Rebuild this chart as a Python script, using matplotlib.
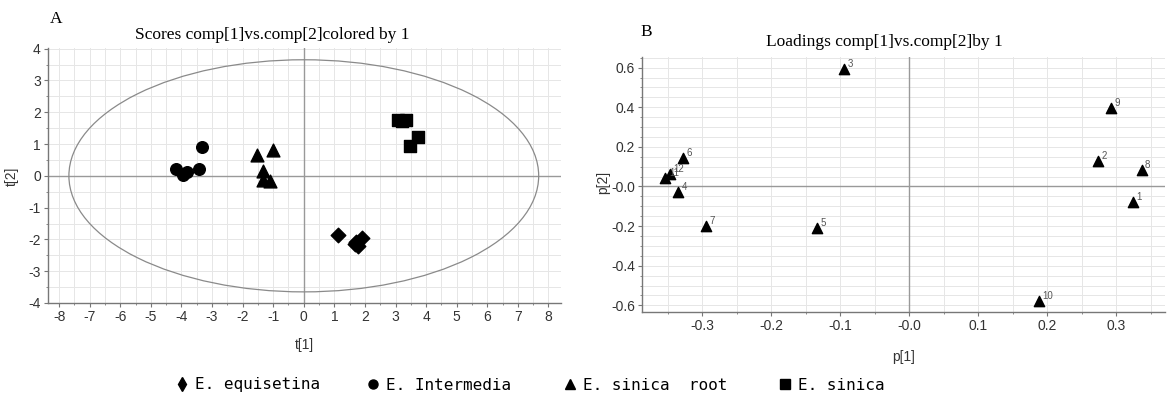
import matplotlib
matplotlib.use("Agg")
import matplotlib.pyplot as plt
from matplotlib.patches import Ellipse
from matplotlib.lines import Line2D
from matplotlib.ticker import MultipleLocator, FuncFormatter

plt.rcParams["axes.unicode_minus"] = False

# ---------------- data ----------------
equisetina_t1 = [1.11, 1.66, 1.90, 1.78, 1.72]
equisetina_t2 = [-1.85, -2.16, -1.94, -2.21, -2.08]
intermedia_t1 = [-4.19, -3.96, -3.81, -3.42, -3.34]
intermedia_t2 = [0.20, 0.04, 0.12, 0.20, 0.91]
sinica_root_t1 = [-1.53, -1.02, -1.35, -1.32, -1.10]
sinica_root_t2 = [0.64, 0.80, 0.14, -0.14, -0.17]
sinica_t1 = [3.07, 3.22, 3.35, 3.73, 3.46]
sinica_t2 = [1.75, 1.72, 1.74, 1.22, 0.93]
ellipse_width = 15.36
ellipse_height = 7.30

load_ids = ["1", "2", "3", "4", "5", "6", "7", "8", "9", "10", "11", "12"]
load_p1 = [0.325, 0.274, -0.094, -0.335, -0.133, -0.328, -0.294, 0.337, 0.293, 0.188, -0.353, -0.346]
load_p2 = [-0.077, 0.129, 0.593, -0.029, -0.208, 0.142, -0.198, 0.083, 0.395, -0.577, 0.041, 0.062]

legend_labels = ["E. equisetina", "E. Intermedia", "E. sinica  root", "E. sinica"]

# ---------------- figure ----------------
W, H = 1172, 396
fig = plt.figure(figsize=(W / 100, H / 100), dpi=100)

def fx(px):
    return px / W

def fy(py):
    return 1 - py / H

tick_font = {"family": "Liberation Sans", "size": 10, "color": "#333333"}
grid_col = "#e6e6e6"
spine_col = "#777777"

def style_axes(ax):
    for s in ["top", "right"]:
        ax.spines[s].set_visible(False)
    for s in ["left", "bottom"]:
        ax.spines[s].set_color(spine_col)
        ax.spines[s].set_linewidth(1.0)
    ax.grid(True, which="both", color=grid_col, linewidth=0.7, zorder=0)
    ax.set_axisbelow(True)
    ax.tick_params(which="major", length=3, width=0.8, color=spine_col, pad=2)
    ax.tick_params(which="minor", length=1.5, width=0.6, color=spine_col)
    for lab in ax.get_xticklabels() + ax.get_yticklabels():
        lab.set_fontfamily(tick_font["family"])
        lab.set_fontsize(tick_font["size"])
        lab.set_color(tick_font["color"])

# ---------------- Panel A ----------------
axA = fig.add_axes([fx(47.8), fy(303), fx(560.7) - fx(47.8), fy(48) - fy(303)])
axA.set_xlim(-8.37, 8.40)
axA.set_ylim(-4.0, 4.02)
axA.xaxis.set_major_locator(MultipleLocator(1))
axA.xaxis.set_minor_locator(MultipleLocator(0.5))
axA.yaxis.set_major_locator(MultipleLocator(1))
axA.yaxis.set_minor_locator(MultipleLocator(0.5))
axA.axhline(0, color="#999999", lw=1.0, zorder=1)
axA.axvline(0, color="#999999", lw=1.0, zorder=1)
axA.add_patch(Ellipse((0, 0), ellipse_width, ellipse_height, fill=False,
                      edgecolor="#8a8a8a", lw=0.9, zorder=2))
axA.scatter(equisetina_t1, equisetina_t2, marker="D", s=55, color="black", zorder=3)
axA.scatter(intermedia_t1, intermedia_t2, marker="o", s=70, color="black", zorder=3)
axA.scatter(sinica_root_t1, sinica_root_t2, marker="^", s=85, color="black", zorder=3)
axA.scatter(sinica_t1, sinica_t2, marker="s", s=70, color="black", zorder=3)
style_axes(axA)
fig.text(fx(12), fy(176), "t[2]", rotation=90, ha="center", va="center",
         fontfamily="Liberation Sans", fontsize=10, color="#333333")
fig.text(fx(304), fy(345), "t[1]", ha="center", va="center",
         fontfamily="Liberation Sans", fontsize=10, color="#333333")
fig.text(fx(272), fy(35), "Scores comp[1]vs.comp[2]colored by 1", ha="center", va="center",
         fontfamily="Liberation Serif", fontsize=12.5, color="black")
fig.text(fx(56), fy(19), "A", ha="center", va="center",
         fontfamily="Liberation Serif", fontsize=12.5, color="black")

# ---------------- Panel B ----------------
axB = fig.add_axes([fx(642), fy(311.7), fx(1165) - fx(642), fy(56.7) - fy(311.7)])
axB.set_xlim(-0.387, 0.371)
axB.set_ylim(-0.632, 0.655)
axB.xaxis.set_major_locator(MultipleLocator(0.1))
axB.xaxis.set_minor_locator(MultipleLocator(0.05))
axB.yaxis.set_major_locator(MultipleLocator(0.2))
axB.yaxis.set_minor_locator(MultipleLocator(0.05))

def fmt(v, pos):
    if abs(v) < 1e-9:
        return "-0.0"
    return f"{v:.1f}"

axB.xaxis.set_major_formatter(FuncFormatter(fmt))
axB.yaxis.set_major_formatter(FuncFormatter(fmt))
axB.axhline(0, color="#999999", lw=1.0, zorder=1)
axB.axvline(0, color="#999999", lw=1.0, zorder=1)
axB.scatter(load_p1, load_p2, marker="^", s=55, color="black", zorder=3)
for i, lab in enumerate(load_ids):
    axB.annotate(lab, (load_p1[i], load_p2[i]), xytext=(2.5, 1.5), textcoords="offset points",
                 fontsize=7, color="#555555", fontfamily="Liberation Sans", zorder=4)
style_axes(axB)
fig.text(fx(603), fy(182), "p[2]", rotation=90, ha="center", va="center",
         fontfamily="Liberation Sans", fontsize=10, color="#333333")
fig.text(fx(904), fy(357), "p[1]", ha="center", va="center",
         fontfamily="Liberation Sans", fontsize=10, color="#333333")
fig.text(fx(884), fy(42), "Loadings comp[1]vs.comp[2]by 1", ha="center", va="center",
         fontfamily="Liberation Serif", fontsize=12.5, color="black")
fig.text(fx(646), fy(32), "B", ha="center", va="center",
         fontfamily="Liberation Serif", fontsize=12.5, color="black")

# ---------------- legend ----------------
markers = ["d", "o", "^", "s"]
msizes = [7, 6.5, 6.5, 7.5]
starts = [175.6, 366.5, 563.5, 778.5]
for lab, mk, ms, x0 in zip(legend_labels, markers, msizes, starts):
    h = Line2D([], [], marker=mk, color="black", linestyle="none", markersize=ms)
    fig.legend(handles=[h], labels=[lab], loc="center left",
               bbox_to_anchor=(fx(x0), fy(385)), frameon=False,
               handlelength=0.8, handletextpad=0.4, borderpad=0, borderaxespad=0,
               prop={"family": "DejaVu Sans Mono", "size": 11.5})

fig.savefig("out.png", dpi=100)
